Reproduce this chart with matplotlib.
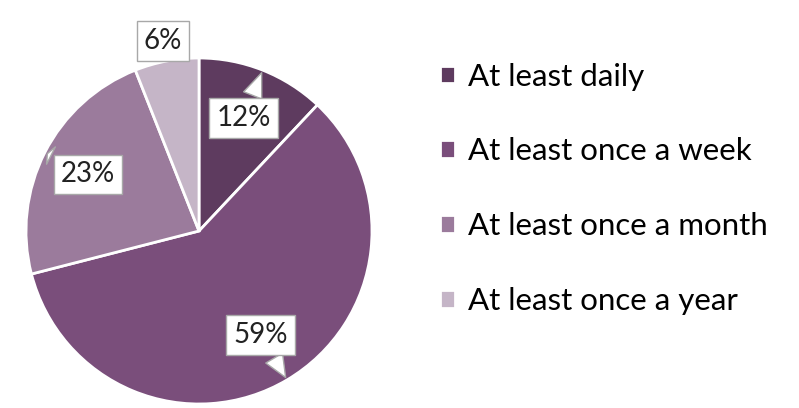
import numpy as np
import matplotlib
matplotlib.use("Agg")
import matplotlib.pyplot as plt

categories = ["At least daily", "At least once a week",
              "At least once a month", "At least once a year"]
shares = [12, 59, 23, 6]
colors = ["#5E3B5F", "#7A4E7B", "#9B7B9C", "#C5B5C7"]
# how far from the centre each label box sits (fraction of radius)
label_r = [0.70, 0.70, 0.72, 1.12]

plt.rcParams["font.family"] = ["Lato", "DejaVu Sans"]

W, H = 799, 408
fig = plt.figure(figsize=(W / 100, H / 100), dpi=100)
cx, cy, R = 199, 231, 173
ax = fig.add_axes([(cx - R) / W, (H - cy - R) / H, 2 * R / W, 2 * R / H])

wedges, _ = ax.pie(shares, colors=colors, startangle=90, counterclock=False,
                   radius=1, wedgeprops=dict(edgecolor="white", linewidth=2))
ax.set_xlim(-1, 1)
ax.set_ylim(-1, 1)
ax.set_aspect("equal")

total = sum(shares)
start = 0
for v, lr in zip(shares, label_r):
    mid = np.deg2rad((start + v / 2) / total * 360)
    start += v
    tip = (np.sin(mid), np.cos(mid))
    pos = (lr * np.sin(mid), lr * np.cos(mid))
    ax.annotate(f"{v}%", xy=tip, xytext=pos, ha="center", va="center",
                fontsize=20, color="#222222", annotation_clip=False,
                bbox=dict(boxstyle="square,pad=0.25", fc="white", ec="#A8A8A8", lw=1),
                arrowprops=dict(arrowstyle="wedge,tail_width=0.7,shrink_factor=0.5",
                                fc="white", ec="#A8A8A8", lw=1)
                if lr < 1 else None)

fig.legend(wedges, categories, loc="center left", bbox_to_anchor=(0.515, 0.537),
           frameon=False, fontsize=22.5, labelspacing=1.5, handlelength=0.5,
           handleheight=0.5, handletextpad=0.4)

fig.savefig("out.png", dpi=100, facecolor="white")
